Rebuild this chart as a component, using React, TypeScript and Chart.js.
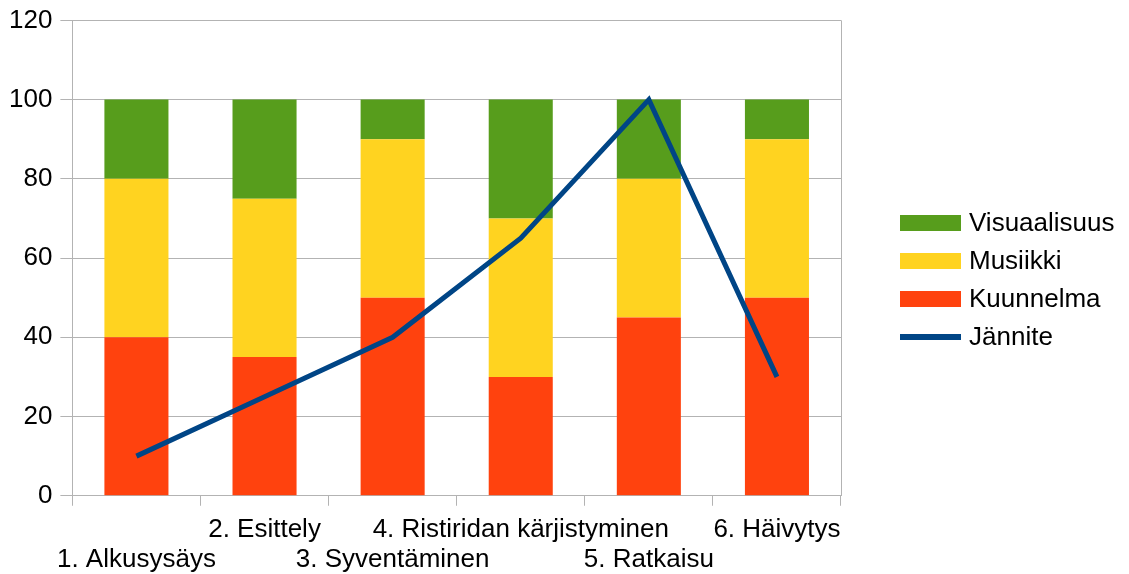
import React, { useEffect, useRef } from "react";
import { Chart, registerables } from "chart.js";

Chart.register(...registerables);

const categories: string[][] = [
  ["", "1. Alkusysäys"],
  ["2. Esittely", ""],
  ["", "3. Syventäminen"],
  ["4. Ristiridan kärjistyminen", ""],
  ["", "5. Ratkaisu"],
  ["6. Häivytys", ""],
];
const kuunnelma = [40, 35, 50, 30, 45, 50];
const musiikki = [40, 40, 40, 40, 35, 40];
const visuaalisuus = [20, 25, 10, 30, 20, 10];
const jannite = [10, 25, 40, 65, 100, 30];
const yTicks = { min: 0, max: 120, step: 20 };

const FONT = "'Liberation Sans', Arial, sans-serif";
const GRID = "#b3b3b3";
const FS = 26;

const legendItems = [
  { label: "Visuaalisuus", color: "#579d1c", kind: "box" },
  { label: "Musiikki", color: "#ffd320", kind: "box" },
  { label: "Kuunnelma", color: "#ff420e", kind: "box" },
  { label: "Jännite", color: "#004586", kind: "line" },
];

const extrasPlugin = {
  id: "extras",
  afterDraw(chart: any) {
    const { ctx, chartArea } = chart;
    ctx.save();
    ctx.strokeStyle = GRID;
    ctx.lineWidth = 1;
    ctx.beginPath();
    ctx.moveTo(Math.round(chartArea.right) + 0.5, chartArea.top);
    ctx.lineTo(Math.round(chartArea.right) + 0.5, chartArea.bottom);
    ctx.stroke();
    // legend
    const x0 = 900;
    const yc = 280;
    const gap = 38;
    const startY = yc - ((legendItems.length - 1) * gap) / 2;
    ctx.font = `${FS}px ${FONT}`;
    ctx.textBaseline = "middle";
    legendItems.forEach((it, i) => {
      const y = startY + i * gap;
      ctx.fillStyle = it.color;
      if (it.kind === "box") ctx.fillRect(x0, y - 8, 61, 16);
      else ctx.fillRect(x0, y - 3, 61, 6);
      ctx.fillStyle = "#000";
      ctx.fillText(it.label, 969, y + 1);
    });
    ctx.restore();
  },
};

export default function App() {
  const ref = useRef<HTMLCanvasElement>(null);
  useEffect(() => {
    if (!ref.current) return;
    const chart = new Chart(ref.current, {
      type: "bar",
      data: {
        labels: categories,
        datasets: [
          {
            type: "line",
            label: "Jännite",
            data: jannite,
            borderColor: "#004586",
            backgroundColor: "#004586",
            borderWidth: 5,
            pointRadius: 0,
            tension: 0,
            stack: "line",
            order: 0,
          } as any,
          { label: "Kuunnelma", data: kuunnelma, backgroundColor: "#ff420e", stack: "bars", order: 1 },
          { label: "Musiikki", data: musiikki, backgroundColor: "#ffd320", stack: "bars", order: 1 },
          { label: "Visuaalisuus", data: visuaalisuus, backgroundColor: "#579d1c", stack: "bars", order: 1 },
        ],
      },
      options: {
        animation: false,
        responsive: true,
        maintainAspectRatio: false,
        layout: { padding: { left: 1, right: 288, top: 0, bottom: -10 } },
        datasets: { bar: { barPercentage: 0.5, categoryPercentage: 1 } } as any,
        plugins: { legend: { display: false }, tooltip: { enabled: false } },
        scales: {
          x: {
            stacked: true,
            grid: { display: true, offset: true, drawOnChartArea: false, color: GRID, tickLength: 10 },
            border: { color: GRID },
            ticks: {
              maxRotation: 0,
              minRotation: 0,
              autoSkip: false,
              color: "#000",
              padding: 10,
              font: { family: FONT, size: FS, lineHeight: 1.12 },
            },
          },
          y: {
            stacked: true,
            min: yTicks.min,
            max: yTicks.max,
            grid: { color: GRID, tickLength: 12 },
            border: { color: GRID },
            ticks: {
              stepSize: yTicks.step,
              color: "#000",
              padding: 8,
              font: { family: FONT, size: FS, lineHeight: 0.95 },
            },
          },
        },
      },
      plugins: [extrasPlugin],
    });
    return () => chart.destroy();
  }, []);
  return (
    <div style={{ position: "fixed", left: 0, top: 0, width: 1129, height: 574, background: "#fff" }}>
      <canvas ref={ref} />
    </div>
  );
}
